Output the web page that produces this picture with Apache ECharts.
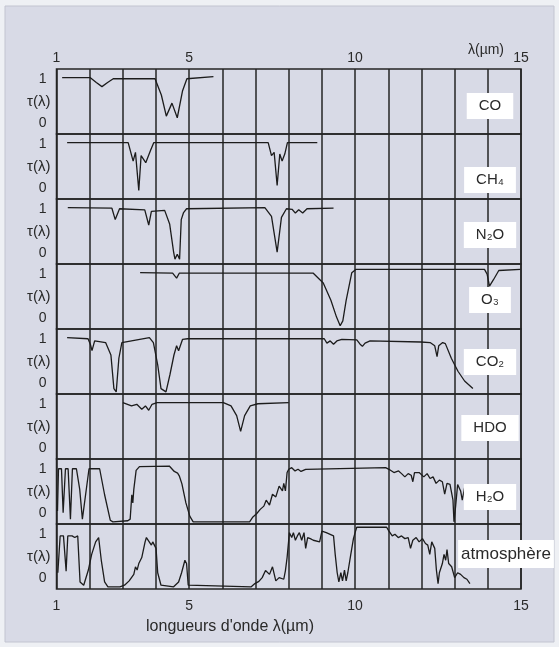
<!DOCTYPE html>
<html><head><meta charset="utf-8">
<script src="https://cdn.jsdelivr.net/npm/echarts@6/dist/echarts.min.js"></script>
<style>html,body{margin:0;padding:0;background:#eef0f4}#c{width:559px;height:647px}</style>
</head><body><div id="c"></div>
<script>
// ---- data (wavelength in µm, transmission τ) ----
const panelNames = ['CO', 'CH₄', 'N₂O', 'O₃', 'CO₂', 'HDO', 'H₂O', 'atmosphère'];
const xTickLabels = [1, 5, 10, 15];
const yTickLabels = [0, 1];
const xTitle = 'longueurs d\'onde λ(µm)';
const xUnitTop = 'λ(µm)';
const yName = 'τ(λ)';

const coX = [1.17, 2.02, 2.2, 2.37, 2.54, 2.71, 3.97, 4.16, 4.31, 4.48, 4.64, 4.8, 4.93, 5.73];
const coY = [1.0, 1.0, 0.91, 0.835, 0.91, 0.98, 0.98, 0.68, 0.29, 0.53, 0.26, 0.76, 0.98, 1.02];

const ch4X = [1.32, 3.16, 3.31, 3.38, 3.48, 3.55, 3.69, 3.83, 3.93, 7.38, 7.48, 7.56, 7.65, 7.73, 7.8, 7.88, 7.96, 8.86];
const ch4Y = [1.0, 1.0, 0.66, 0.82, 0.12, 0.76, 0.63, 0.85, 1.0, 1.0, 0.76, 0.82, 0.21, 0.79, 0.66, 0.79, 1.0, 1.0];

const n2oX = [1.34, 2.67, 2.77, 2.9, 3.66, 3.78, 3.86, 4.26, 4.41, 4.53, 4.57, 4.64, 4.71, 4.76, 4.83, 4.92, 7.28, 7.48, 7.65, 7.78, 7.93, 8.1, 8.2, 8.3, 8.42, 8.55, 9.35];
const n2oY = [1.0, 0.99, 0.78, 0.98, 0.96, 0.68, 0.93, 0.95, 0.7, 0.18, 0.05, 0.14, 0.05, 0.78, 0.91, 0.98, 1.0, 0.84, 0.18, 0.82, 0.98, 0.97, 0.9, 0.96, 0.9, 0.98, 0.99];

const o3X = [3.52, 4.5, 4.62, 4.7, 8.74, 9.04, 9.27, 9.44, 9.55, 9.63, 9.73, 9.9, 10.02, 13.9, 13.98, 14.05, 14.17, 14.33, 14.98];
const o3Y = [1.0, 0.99, 0.9, 0.99, 0.99, 0.81, 0.49, 0.18, 0.02, 0.11, 0.49, 1.0, 1.06, 1.06, 0.97, 0.75, 0.87, 1.04, 1.06];

const co2X = [1.32, 1.95, 2.02, 2.07, 2.15, 2.48, 2.64, 2.73, 2.8, 2.88, 2.97, 3.02, 3.8, 3.92, 4.05, 4.15, 4.3, 4.42, 4.54, 4.62, 4.68, 4.8, 4.95, 9.07, 9.15, 9.25, 9.35, 9.45, 9.6, 10.05, 10.15, 10.22, 10.3, 10.45, 11.98, 12.26, 12.4, 12.47, 12.52, 12.64, 12.72, 12.9, 13.1, 13.3, 13.55];
const co2Y = [1.0, 0.98, 0.88, 0.76, 0.94, 0.91, 0.68, 0.06, 0.0, 0.62, 0.91, 0.94, 1.0, 0.91, 0.5, 0.06, 0.0, 0.32, 0.68, 0.85, 0.76, 0.97, 0.98, 0.98, 0.9, 0.94, 0.88, 0.94, 0.97, 0.96, 0.88, 0.84, 0.9, 0.94, 0.92, 0.91, 0.85, 0.65, 0.85, 0.91, 0.89, 0.62, 0.38, 0.2, 0.06];

const hdoX = [3.0, 3.26, 3.42, 3.57, 3.68, 3.78, 3.88, 4.03, 6.03, 6.26, 6.43, 6.55, 6.67, 6.84, 7.07, 8.0];
const hdoY = [1.0, 0.94, 0.97, 0.88, 0.94, 0.86, 0.97, 1.0, 1.0, 0.94, 0.76, 0.47, 0.76, 0.94, 0.98, 1.0];

const h2oX = [1.03, 1.06, 1.15, 1.2, 1.27, 1.35, 1.42, 1.48, 1.6, 1.7, 1.78, 1.84, 1.98, 2.3, 2.45, 2.62, 2.7, 3.15, 3.22, 3.27, 3.3, 3.33, 3.4, 3.5, 4.4, 4.55, 4.65, 4.7, 4.78, 4.9, 5.02, 5.12, 6.82, 6.92, 7.03, 7.14, 7.25, 7.32, 7.42, 7.51, 7.61, 7.71, 7.81, 7.85, 7.9, 7.95, 8.0, 8.09, 8.19, 8.28, 8.37, 8.51, 8.56, 10.92, 11.02, 11.17, 11.31, 11.4, 11.5, 11.6, 11.69, 11.74, 11.79, 11.93, 12.07, 12.17, 12.26, 12.35, 12.44, 12.54, 12.63, 12.7, 12.77, 12.86, 12.95, 12.98, 13.03, 13.09, 13.18, 13.23, 13.3, 13.37, 13.46];
const h2oY = [0.2, 0.98, 0.98, 0.17, 0.98, 0.98, 0.05, 0.98, 0.98, 0.6, 0.05, 0.05, 0.98, 0.98, 0.5, 0.03, 0.0, 0.02, 0.05, 0.5, 0.35, 0.6, 0.95, 1.02, 1.03, 0.93, 0.9, 0.85, 0.7, 0.35, 0.1, 0.0, 0.0, 0.09, 0.15, 0.23, 0.29, 0.4, 0.31, 0.51, 0.46, 0.66, 0.57, 0.71, 0.57, 0.91, 0.97, 1.0, 0.94, 0.97, 0.93, 0.97, 1.0, 1.0, 0.97, 0.91, 0.94, 0.89, 0.83, 0.89, 0.86, 0.74, 0.91, 0.91, 0.83, 0.89, 0.8, 0.83, 0.71, 0.77, 0.74, 0.51, 0.71, 0.69, 0.4, 0.0, 0.29, 0.69, 0.57, 0.4, 0.63, 0.6, 0.66];

const atmX = [1.04, 1.11, 1.21, 1.29, 1.34, 1.47, 1.55, 1.64, 1.71, 1.82, 1.87, 1.96, 2.06, 2.18, 2.27, 2.35, 2.45, 2.55, 2.91, 3.05, 3.19, 3.33, 3.38, 3.43, 3.48, 3.57, 3.67, 3.71, 3.76, 3.86, 3.9, 3.95, 4.0, 4.05, 4.15, 4.53, 4.68, 4.77, 4.87, 4.92, 4.97, 5.02, 6.87, 6.98, 7.1, 7.2, 7.3, 7.42, 7.51, 7.61, 7.71, 7.85, 7.9, 7.95, 8.02, 8.09, 8.14, 8.2, 8.26, 8.32, 8.39, 8.46, 8.51, 8.57, 8.65, 8.74, 8.93, 9.0, 9.13, 9.35, 9.4, 9.46, 9.51, 9.57, 9.62, 9.68, 9.73, 9.78, 9.87, 9.95, 10.0, 10.05, 10.95, 11.02, 11.12, 11.2, 11.3, 11.4, 11.5, 11.6, 11.67, 11.74, 11.84, 11.93, 12.03, 12.12, 12.19, 12.25, 12.31, 12.4, 12.45, 12.5, 12.54, 12.63, 12.68, 12.73, 12.77, 12.82, 12.91, 13.0, 13.09, 13.18, 13.28, 13.37, 13.46];
const atmY = [0.26, 0.94, 0.94, 0.29, 0.94, 0.94, 0.91, 0.94, 0.09, 0.03, 0.03, 0.31, 0.6, 0.83, 0.91, 0.49, 0.09, 0.0, 0.0, 0.03, 0.11, 0.23, 0.37, 0.31, 0.43, 0.54, 0.83, 0.91, 0.89, 0.77, 0.83, 0.77, 0.71, 0.26, 0.03, 0.0, 0.09, 0.26, 0.49, 0.43, 0.03, 0.0, 0.0, 0.06, 0.1, 0.17, 0.3, 0.23, 0.37, 0.11, 0.17, 0.14, 0.3, 0.54, 1.0, 0.91, 1.0, 0.86, 0.94, 1.0, 0.86, 1.0, 0.71, 0.91, 0.89, 0.86, 0.83, 1.03, 1.0, 0.94, 0.6, 0.26, 0.09, 0.26, 0.11, 0.31, 0.11, 0.26, 0.6, 0.89, 1.0, 1.1, 1.1, 1.03, 0.94, 0.97, 0.91, 0.94, 0.89, 0.91, 0.71, 0.86, 0.91, 0.83, 0.89, 0.8, 0.77, 0.6, 0.83, 0.71, 0.31, 0.06, 0.26, 0.43, 0.6, 0.49, 0.69, 0.43, 0.37, 0.17, 0.26, 0.23, 0.17, 0.14, 0.06];

const seriesX = [coX, ch4X, n2oX, o3X, co2X, hdoX, h2oX, atmX];
const seriesY = [coY, ch4Y, n2oY, o3Y, co2Y, hdoY, h2oY, atmY];

// ---- layout / style ----
const TOP = 69, PH = 65, LEFT = 56.5, RIGHT = 38;
const INK = '#242424';
const TXT = '#2a2a2a';
const labelCenterY = [106, 180, 235, 300, 362, 428, 497, 554];
const FONT = 'Liberation Sans, Arial, sans-serif';

const grids = [], xAxes = [], yAxes = [], series = [], graphics = [];
graphics.push({type: 'rect', z: -10, shape: {x: 5, y: 6, width: 549, height: 636},
  style: {fill: '#d8dae6', stroke: '#c2c4d0', lineWidth: 1}});
for (let i = 0; i < 8; i++) {
  grids.push({left: LEFT, right: RIGHT, top: TOP + PH * i, height: PH, show: true,
    borderColor: INK, borderWidth: 1.5, backgroundColor: 'transparent'});
  const isTop = i === 0, isBottom = i === 7;
  xAxes.push({
    gridIndex: i, type: 'value', min: 1, max: 15, interval: 1,
    position: isTop ? 'top' : 'bottom',
    axisLine: {show: false}, axisTick: {show: false},
    splitLine: {show: true, lineStyle: {color: INK, width: 1.5}},
    axisLabel: {show: isTop || isBottom, margin: isTop ? 4 : 10, color: TXT, fontSize: 14, fontFamily: FONT,
      formatter: v => xTickLabels.indexOf(v) >= 0 ? String(v) : ''}
  });
  yAxes.push({
    gridIndex: i, type: 'value', min: -0.04, max: 1.16,
    axisLine: {show: false}, axisTick: {show: false}, splitLine: {show: false},
    axisLabel: {show: true, customValues: yTickLabels, margin: 10, color: TXT, fontSize: 14, fontFamily: FONT,
      formatter: v => v === 0 ? '{lo|0}' : '{hi|1}',
      rich: {lo: {padding: [0, 0, 18, 0], fontSize: 14, fontFamily: FONT, color: TXT},
             hi: {padding: [3, 0, 0, 0], fontSize: 14, fontFamily: FONT, color: TXT}}},
    name: yName, nameLocation: 'middle', nameRotate: 0, nameGap: 6, nameMoveOverlap: false,
    nameTextStyle: {color: TXT, fontSize: 15, fontFamily: FONT}
  });
  series.push({
    type: 'line', xAxisIndex: i, yAxisIndex: i, showSymbol: false, silent: true,
    lineStyle: {color: '#1c1c1c', width: 1.3},
    data: seriesX[i].map((x, k) => [x, seriesY[i][k]])
  });
  const big = i === 7;
  graphics.push({
    type: 'text', z: 50, x: big ? 506 : 490, y: labelCenterY[i],
    style: {text: panelNames[i], textAlign: 'center', textVerticalAlign: 'middle',
      fill: TXT, font: (big ? 17 : 15) + 'px ' + FONT,
      backgroundColor: '#ffffff', padding: big ? [6, 3, 5, 3] : [6, 12, 5, 12]}
  });
}
graphics.push({type: 'text', z: 50, x: 486, y: 50,
  style: {text: xUnitTop, textAlign: 'center', textVerticalAlign: 'middle', fill: TXT, font: '14px ' + FONT}});
graphics.push({type: 'text', z: 50, x: 230, y: 627,
  style: {text: xTitle, textAlign: 'center', textVerticalAlign: 'middle', fill: TXT, font: '16px ' + FONT}});

const chart = echarts.init(document.getElementById('c'), null, {renderer: 'canvas'});
chart.setOption({
  animation: false,
  backgroundColor: '#eef0f4',
  graphic: graphics, grid: grids, xAxis: xAxes, yAxis: yAxes, series: series
});
</script></body></html>
